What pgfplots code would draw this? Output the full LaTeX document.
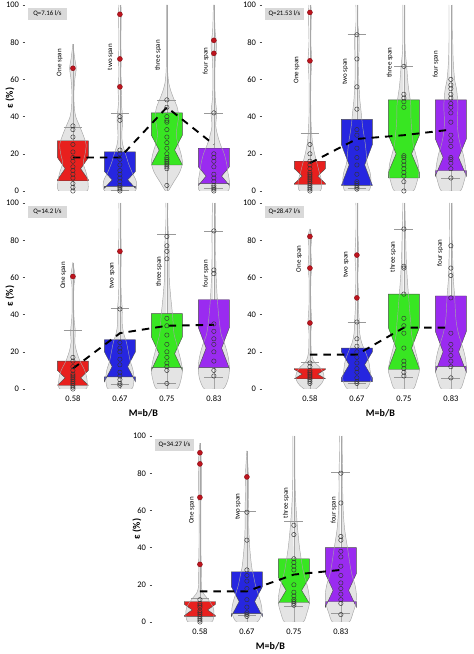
\documentclass[border=0pt]{standalone}
\usepackage{pgfplots}
\pgfplotsset{compat=1.18}
\usepackage{pgfplotstable}
\usepackage{fontspec}
\setmainfont{Carlito}
\definecolor{cred}{RGB}{232,32,30}
\definecolor{cblue}{RGB}{38,38,224}
\definecolor{cgreen}{RGB}{56,230,34}
\definecolor{cpurple}{RGB}{154,43,240}
\definecolor{vgray}{RGB}{228,228,228}
\definecolor{ored}{RGB}{190,20,30}

% violin profiles (y, half width); first row closes on the centre line
\pgfplotstableread[row sep=\\]{y w\\0 0\\0 0.30\\5 0.32\\10 0.28\\15 0.22\\20 0.26\\25 0.28\\30 0.22\\35 0.14\\40 0.06\\45 0.03\\52 0.02\\60 0.04\\66 0.07\\71 0.04\\75 0.02\\79 0.0\\}\vAa
\pgfplotstableread[row sep=\\]{y w\\0 0\\0 0.32\\5 0.35\\10 0.26\\15 0.18\\20 0.12\\25 0.06\\30 0.04\\38 0.06\\42 0.05\\48 0.03\\56 0.04\\63 0.02\\71 0.03\\80 0.02\\95 0.03\\100 0.02\\}\vAb
\pgfplotstableread[row sep=\\]{y w\\0 0\\0 0.03\\5 0.15\\10 0.27\\15 0.33\\20 0.30\\25 0.24\\30 0.20\\35 0.22\\40 0.25\\45 0.22\\50 0.14\\55 0.07\\60 0.03\\70 0.01\\100 0.01\\}\vAc
\pgfplotstableread[row sep=\\]{y w\\0 0\\0 0.30\\5 0.33\\10 0.30\\15 0.27\\20 0.22\\25 0.14\\30 0.08\\35 0.04\\42 0.06\\50 0.03\\60 0.02\\70 0.03\\78 0.06\\85 0.03\\90 0.02\\100 0.01\\}\vAd

\pgfplotstableread[row sep=\\]{y w\\0 0\\0 0.22\\5 0.25\\10 0.20\\15 0.15\\20 0.10\\25 0.06\\30 0.04\\40 0.02\\60 0.02\\70 0.04\\80 0.02\\95 0.03\\100 0.02\\}\vBa
\pgfplotstableread[row sep=\\]{y w\\0 0\\0 0.25\\5 0.30\\10 0.28\\15 0.22\\20 0.20\\25 0.18\\30 0.15\\35 0.12\\40 0.10\\45 0.08\\50 0.06\\60 0.04\\70 0.04\\80 0.05\\85 0.04\\90 0.02\\100 0.02\\}\vBb
\pgfplotstableread[row sep=\\]{y w\\0 0\\0 0.20\\5 0.28\\10 0.32\\15 0.30\\20 0.25\\25 0.20\\30 0.18\\35 0.16\\40 0.15\\45 0.15\\50 0.13\\55 0.10\\60 0.08\\67 0.06\\75 0.03\\85 0.02\\100 0.02\\}\vBc
\pgfplotstableread[row sep=\\]{y w\\0 0\\0 0.20\\5 0.28\\10 0.32\\15 0.30\\20 0.26\\25 0.20\\30 0.16\\35 0.14\\40 0.14\\45 0.15\\50 0.14\\55 0.12\\60 0.08\\70 0.05\\80 0.04\\90 0.04\\100 0.04\\}\vBd

\pgfplotstableread[row sep=\\]{y w\\0 0\\0 0.28\\5 0.30\\10 0.25\\15 0.15\\20 0.08\\25 0.04\\31 0.05\\40 0.02\\55 0.02\\60 0.05\\65 0.02\\68 0.0\\}\vCa
\pgfplotstableread[row sep=\\]{y w\\0 0\\0 0.25\\5 0.30\\10 0.28\\15 0.22\\20 0.18\\25 0.14\\30 0.08\\35 0.05\\43 0.05\\50 0.03\\60 0.02\\74 0.03\\85 0.02\\100 0.02\\}\vCb
\pgfplotstableread[row sep=\\]{y w\\0 0\\0 0.22\\5 0.30\\10 0.33\\15 0.30\\20 0.25\\25 0.20\\30 0.15\\40 0.12\\50 0.08\\60 0.05\\70 0.05\\80 0.04\\90 0.02\\100 0.02\\}\vCc
\pgfplotstableread[row sep=\\]{y w\\0 0\\0 0.20\\5 0.30\\10 0.33\\15 0.32\\20 0.28\\25 0.22\\30 0.15\\40 0.10\\50 0.07\\60 0.05\\70 0.04\\85 0.04\\100 0.03\\}\vCd

\pgfplotstableread[row sep=\\]{y w\\0 0\\0 0.12\\3 0.25\\6 0.30\\9 0.28\\12 0.20\\15 0.08\\20 0.03\\30 0.02\\36 0.04\\45 0.02\\60 0.02\\65 0.04\\75 0.02\\82 0.04\\86 0.0\\}\vDa
\pgfplotstableread[row sep=\\]{y w\\0 0\\0 0.20\\5 0.30\\10 0.28\\15 0.25\\20 0.18\\25 0.10\\30 0.06\\36 0.05\\45 0.03\\49 0.04\\60 0.02\\72 0.04\\85 0.02\\100 0.02\\}\vDb
\pgfplotstableread[row sep=\\]{y w\\0 0\\0 0.20\\5 0.28\\10 0.33\\15 0.30\\20 0.25\\25 0.20\\30 0.16\\35 0.15\\40 0.13\\50 0.10\\60 0.07\\70 0.05\\80 0.04\\90 0.03\\100 0.02\\}\vDc
\pgfplotstableread[row sep=\\]{y w\\0 0\\0 0.20\\5 0.28\\10 0.33\\15 0.32\\20 0.28\\25 0.22\\30 0.16\\35 0.12\\40 0.10\\50 0.08\\60 0.05\\70 0.04\\80 0.03\\90 0.03\\100 0.03\\}\vDd

\pgfplotstableread[row sep=\\]{y w\\0 0\\0 0.25\\4 0.30\\8 0.28\\12 0.18\\16 0.06\\20 0.03\\30 0.03\\40 0.02\\65 0.02\\67 0.03\\85 0.03\\91 0.02\\96 0.0\\}\vEa
\pgfplotstableread[row sep=\\]{y w\\0 0\\0 0.22\\5 0.32\\10 0.30\\15 0.24\\20 0.18\\25 0.14\\30 0.10\\40 0.06\\50 0.04\\60 0.04\\70 0.03\\80 0.03\\92 0.0\\}\vEb
\pgfplotstableread[row sep=\\]{y w\\0 0\\0 0.20\\5 0.28\\10 0.33\\15 0.32\\20 0.28\\25 0.22\\30 0.18\\40 0.12\\50 0.08\\60 0.05\\70 0.03\\85 0.02\\100 0.02\\}\vEc
\pgfplotstableread[row sep=\\]{y w\\0 0\\0 0.18\\5 0.26\\10 0.32\\15 0.33\\20 0.30\\25 0.24\\30 0.20\\40 0.14\\50 0.08\\60 0.05\\70 0.04\\80 0.04\\90 0.03\\100 0.03\\}\vEd

\pgfplotsset{
 panel/.style={width=210pt, height=186pt, scale only axis, anchor=south west,
  xmin=-1.02, xmax=3.45, ymin=0, ymax=100, ytick={0,20,...,100}, xtick={0,1,2,3},
  axis x line*=bottom, axis y line*=left, axis line style={draw=none},
  tick align=outside, x tick style={draw=none}, y tick style={black!70, line width=0.4pt},
  major tick length=2.5pt, tick label style={font=\fontsize{8.5}{9}\selectfont},
  /pgf/number format/assume math mode=true,
  xticklabel style={yshift=-1pt},
  ylabel style={at={(axis description cs:-0.072,0.5)}, anchor=center, font=\fontsize{10}{11}\selectfont},
  xlabel style={at={(axis description cs:0.564,-0.13)}, anchor=center, font=\fontsize{10}{11}\selectfont}},
 wstyle/.style={gray!70, line width=0.5pt},
 cstyle/.style={gray!80, line width=0.6pt},
 vedge/.style={gray!70, line width=0.45pt},
 pstyle/.style={only marks, mark=o, mark size=2.2pt, black!80, mark options={line width=0.45pt}},
 ostyle/.style={only marks, mark=*, mark size=2.5pt, mark options={fill=ored, draw=ored!70!black}},
 mstyle/.style={black, line width=1.9pt, dash pattern=on 7.5pt off 6pt},
}
\newcommand\VioFill[2]{%
 \addplot[fill=vgray, draw=none, smooth] table[x expr=#1+\thisrow{w}, y=y]{#2};
 \addplot[fill=vgray, draw=none, smooth] table[x expr=#1-\thisrow{w}, y=y]{#2};}
\newcommand\VioOut[2]{%
 \addplot[vedge, smooth] table[x expr=#1+\thisrow{w}, y=y]{#2};
 \addplot[vedge, smooth] table[x expr=#1-\thisrow{w}, y=y]{#2};}
\newcommand\Wline[3]{\addplot[wstyle] table[row sep=\\, x expr=#1, y=y]{y\\#2\\#3\\};}
\newcommand\Wcap[2]{\addplot[cstyle] table[row sep=\\, x expr=#1+\thisrow{d}, y expr=#2]{d\\-0.2\\0.2\\};}
\newcommand\Pts[2]{\addplot[pstyle] table[row sep=\\, x expr=#1, y=y]{y\\#2};}
\newcommand\Outl[2]{\addplot[ostyle] table[row sep=\\, x expr=#1, y=y]{y\\#2};}
\newcommand\Nbox[6]{%
 \pgfmathsetmacro\NBxl{#1-0.33}\pgfmathsetmacro\NBxr{#1+0.33}%
 \pgfmathsetmacro\NBil{#1-0.165}\pgfmathsetmacro\NBir{#1+0.165}%
 \pgfmathsetmacro\NBlo{#3-#5}\pgfmathsetmacro\NBhi{#3+#5}%
 \edef\NBtmp{\noexpand\addplot[fill=#6, draw=black!70, line width=0.4pt] coordinates {(\NBxl,#2) (\NBxr,#2) (\NBxr,\NBlo) (\NBir,#3) (\NBxr,\NBhi) (\NBxr,#4) (\NBxl,#4) (\NBxl,\NBhi) (\NBil,#3) (\NBxl,\NBlo) (\NBxl,#2)};}%
 \NBtmp}
\newcommand\Clab[3]{\node[rotate=90, font=\fontsize{7}{7}\selectfont, inner sep=0pt] at (axis cs:#1,#2) {#3};}
\newcommand\Qlab[1]{\node[fill=gray!30, anchor=north west, minimum width=39pt, minimum height=12pt, inner sep=1pt, font=\fontsize{6.8}{7}\selectfont] at (rel axis cs:0.013,0.985) {#1};}
\newcommand\Baseline{\draw[black!70, line width=0.5pt] (axis cs:-0.72,0) -- (axis cs:3.45,0);}

\begin{document}
\begin{tikzpicture}[x=1pt,y=1pt]
\path[use as bounding box] (0,0) rectangle (474,654);

% ---------- Panel 1: Q=7.16
\begin{axis}[panel, at={(25pt,463pt)}, xticklabels={}, ylabel={\textbf{ε (\%)}}]
\VioFill{0}{\vAa}\VioFill{1}{\vAb}\VioFill{2}{\vAc}\VioFill{3}{\vAd}
\Wline{0}{0}{79}\Wline{1}{0}{100}\Wline{2}{0}{100}\Wline{3}{0}{100}
\Nbox{0}{5.5}{12}{27}{6}{cred}
\Nbox{1}{2.5}{6}{21}{4.5}{cblue}
\Nbox{2}{14}{22}{42}{8}{cgreen}
\Nbox{3}{4}{8}{23}{5}{cpurple}
\VioOut{0}{\vAa}\VioOut{1}{\vAb}\VioOut{2}{\vAc}\VioOut{3}{\vAd}
\Wcap{0}{34}\Wcap{1}{42}\Wcap{1}{0.5}\Wcap{2}{49}\Wcap{3}{42}\Wcap{3}{1.5}
\Pts{0}{0\\2\\4\\7\\9\\11\\13\\16\\18\\21\\25\\29\\33\\35\\}
\Pts{1}{0\\1\\2\\3\\5\\7\\9\\11\\14\\17\\20\\22\\38\\40\\}
\Pts{2}{3\\12\\13\\14\\15\\16\\17\\18\\20\\23\\26\\29\\33\\37\\38\\40\\45\\49\\}
\Pts{3}{0\\1\\2\\3\\5\\7\\9\\13\\16\\18\\20\\42\\}
\Outl{0}{66\\}\Outl{1}{56\\71\\95\\}\Outl{3}{74\\81\\}
\addplot[mstyle] coordinates {(0,18) (1,18) (2,45) (3,25)};
\Clab{-0.28}{69}{One span}\Clab{0.8}{72}{two span}\Clab{1.81}{73}{three span}\Clab{2.83}{70}{four span}
\Qlab{Q=7.16 l/s}
\Baseline
\end{axis}

% ---------- Panel 2: Q=21.53
\begin{axis}[panel, at={(262pt,463pt)}, xticklabels={}]
\VioFill{0}{\vBa}\VioFill{1}{\vBb}\VioFill{2}{\vBc}\VioFill{3}{\vBd}
\Wline{0}{0}{100}\Wline{1}{0}{100}\Wline{2}{0}{100}\Wline{3}{0}{100}
\Nbox{0}{3.5}{8}{16}{4}{cred}
\Nbox{1}{3}{14}{38.5}{11}{cblue}
\Nbox{2}{7}{20}{49}{10}{cgreen}
\Nbox{3}{11}{18}{49}{10}{cpurple}
\VioOut{0}{\vBa}\VioOut{1}{\vBb}\VioOut{2}{\vBc}\VioOut{3}{\vBd}
\Wcap{0}{31}\Wcap{1}{84}\Wcap{1}{1.5}\Wcap{2}{67}\Wcap{3}{7}
\Pts{0}{0\\1\\2\\3\\4\\5\\6\\7\\8\\9\\10\\12\\14\\16\\20\\25\\}
\Pts{1}{1\\2\\3\\4\\5\\9\\14\\18\\23\\30\\33\\44\\56\\71\\84\\}
\Pts{2}{0\\5\\8\\10\\12\\14\\16\\18\\19\\45\\48\\50\\52\\67\\}
\Pts{3}{7\\12\\15\\17\\18\\24\\27\\30\\37\\42\\45\\47\\50\\52\\55\\57\\60\\}
\Outl{0}{70\\96\\}
\addplot[mstyle] coordinates {(0,15) (1,28) (2,30) (3,33)};
\Clab{-0.28}{65}{One span}\Clab{0.75}{64}{two span}\Clab{1.7}{69}{three span}\Clab{2.68}{68}{four span}
\Qlab{Q=21.53 l/s}
\Baseline
\end{axis}

% ---------- Panel 3: Q=14.2
\begin{axis}[panel, at={(25pt,265pt)}, xticklabels={0.58,0.67,0.75,0.83}, ylabel={\textbf{ε (\%)}}, xlabel={\textbf{M=b/B}}]
\VioFill{0}{\vCa}\VioFill{1}{\vCb}\VioFill{2}{\vCc}\VioFill{3}{\vCd}
\Wline{0}{0}{68}\Wline{1}{0}{100}\Wline{2}{0}{100}\Wline{3}{0}{100}
\Nbox{0}{2}{6}{15}{4}{cred}
\Nbox{1}{6.5}{12}{26.5}{8}{cblue}
\Nbox{2}{11.5}{19}{40.5}{9}{cgreen}
\Nbox{3}{11.5}{22}{48}{11}{cpurple}
\VioOut{0}{\vCa}\VioOut{1}{\vCb}\VioOut{2}{\vCc}\VioOut{3}{\vCd}
\Wcap{0}{31.5}\Wcap{1}{43.5}\Wcap{1}{2.5}\Wcap{2}{83}\Wcap{2}{3}\Wcap{3}{85}\Wcap{3}{6.5}
\Pts{0}{0\\1\\2\\3\\4\\5\\6\\7\\8\\10\\12\\15\\17\\}
\Pts{1}{2\\3\\5\\7\\9\\13\\16\\20\\22\\25\\43\\}
\Pts{2}{3\\10\\12\\14\\17\\20\\24\\29\\34\\38\\70\\74\\77\\82\\}
\Pts{3}{7\\10\\15\\20\\24\\27\\31\\35\\62\\64\\85\\}
\Outl{0}{60.5\\}\Outl{1}{74\\}
\addplot[mstyle] coordinates {(0,11) (1,30) (2,34) (3,34.5)};
\Clab{-0.2}{61}{One span}\Clab{0.83}{61}{two span}\Clab{1.83}{63}{three span}\Clab{2.83}{62}{four span}
\Qlab{Q=14.2 l/s}
\Baseline
\end{axis}

% ---------- Panel 4: Q=28.47
\begin{axis}[panel, at={(262pt,265pt)}, xticklabels={0.58,0.67,0.75,0.83}, xlabel={\textbf{M=b/B}}]
\VioFill{0}{\vDa}\VioFill{1}{\vDb}\VioFill{2}{\vDc}\VioFill{3}{\vDd}
\Wline{0}{0}{86}\Wline{1}{0}{100}\Wline{2}{0}{100}\Wline{3}{0}{100}
\Nbox{0}{5.5}{8}{11}{2.5}{cred}
\Nbox{1}{4}{13}{22}{7}{cblue}
\Nbox{2}{10.5}{22}{51}{11}{cgreen}
\Nbox{3}{12}{20}{50}{11}{cpurple}
\VioOut{0}{\vDa}\VioOut{1}{\vDb}\VioOut{2}{\vDc}\VioOut{3}{\vDd}
\Wcap{0}{14.5}\Wcap{1}{36}\Wcap{1}{3}\Wcap{2}{86}\Wcap{2}{6.5}\Wcap{3}{6}
\Pts{0}{3\\4\\5\\6\\7\\8\\9\\10\\12\\14\\}
\Pts{1}{3\\4\\6\\9\\11\\14\\17\\20\\23\\27\\36\\}
\Pts{2}{7\\9\\11\\13\\15\\22\\30\\34\\38\\51\\65\\66\\86\\}
\Pts{3}{6\\12\\15\\18\\21\\24\\30\\49\\61\\65\\77\\}
\Outl{0}{35.5\\65\\82\\}\Outl{1}{49\\72\\}
\addplot[mstyle] coordinates {(0,18.5) (1,18.5) (2,33) (3,33)};
\Clab{-0.23}{70}{One span}\Clab{0.77}{67}{two span}\Clab{1.77}{71}{three span}\Clab{2.77}{73}{four span}
\Qlab{Q=28.47 l/s}
\Baseline
\end{axis}

% ---------- Panel 5: Q=34.27
\begin{axis}[panel, at={(152pt,32pt)}, xticklabels={0.58,0.67,0.75,0.83}, ylabel={\textbf{ε (\%)}}, xlabel={\textbf{M=b/B}}]
\VioFill{0}{\vEa}\VioFill{1}{\vEb}\VioFill{2}{\vEc}\VioFill{3}{\vEd}
\Wline{0}{0}{96}\Wline{1}{0}{92}\Wline{2}{0}{100}\Wline{3}{0}{100}
\Nbox{0}{3}{6.5}{11}{3}{cred}
\Nbox{1}{4.5}{11}{27}{8}{cblue}
\Nbox{2}{10.5}{17}{34}{7}{cgreen}
\Nbox{3}{11}{17}{40}{9}{cpurple}
\VioOut{0}{\vEa}\VioOut{1}{\vEb}\VioOut{2}{\vEc}\VioOut{3}{\vEd}
\Wcap{0}{13}\Wcap{1}{59.5}\Wcap{1}{3.5}\Wcap{2}{54}\Wcap{2}{8.5}\Wcap{3}{80.5}\Wcap{3}{4.5}
\Pts{0}{0\\1\\2\\3\\4\\5\\6\\8\\9\\10\\12\\}
\Pts{1}{3\\4\\5\\8\\12\\18\\22\\25\\28\\44\\59\\}
\Pts{2}{9\\10\\11\\12\\14\\16\\20\\28\\30\\32\\34\\47\\52\\}
\Pts{3}{4\\10\\12\\15\\18\\21\\25\\30\\35\\38\\44\\46\\64\\80\\}
\Outl{0}{31\\67\\85\\91\\}\Outl{1}{78\\}
\addplot[mstyle] coordinates {(0,16.5) (1,16.5) (2,25.5) (3,28)};
\Clab{-0.17}{60}{One span}\Clab{0.81}{62}{two span}\Clab{1.83}{64}{three span}\Clab{2.85}{60}{four span}
\Qlab{Q=34.27 l/s}
\Baseline
\end{axis}
\end{tikzpicture}
\end{document}
